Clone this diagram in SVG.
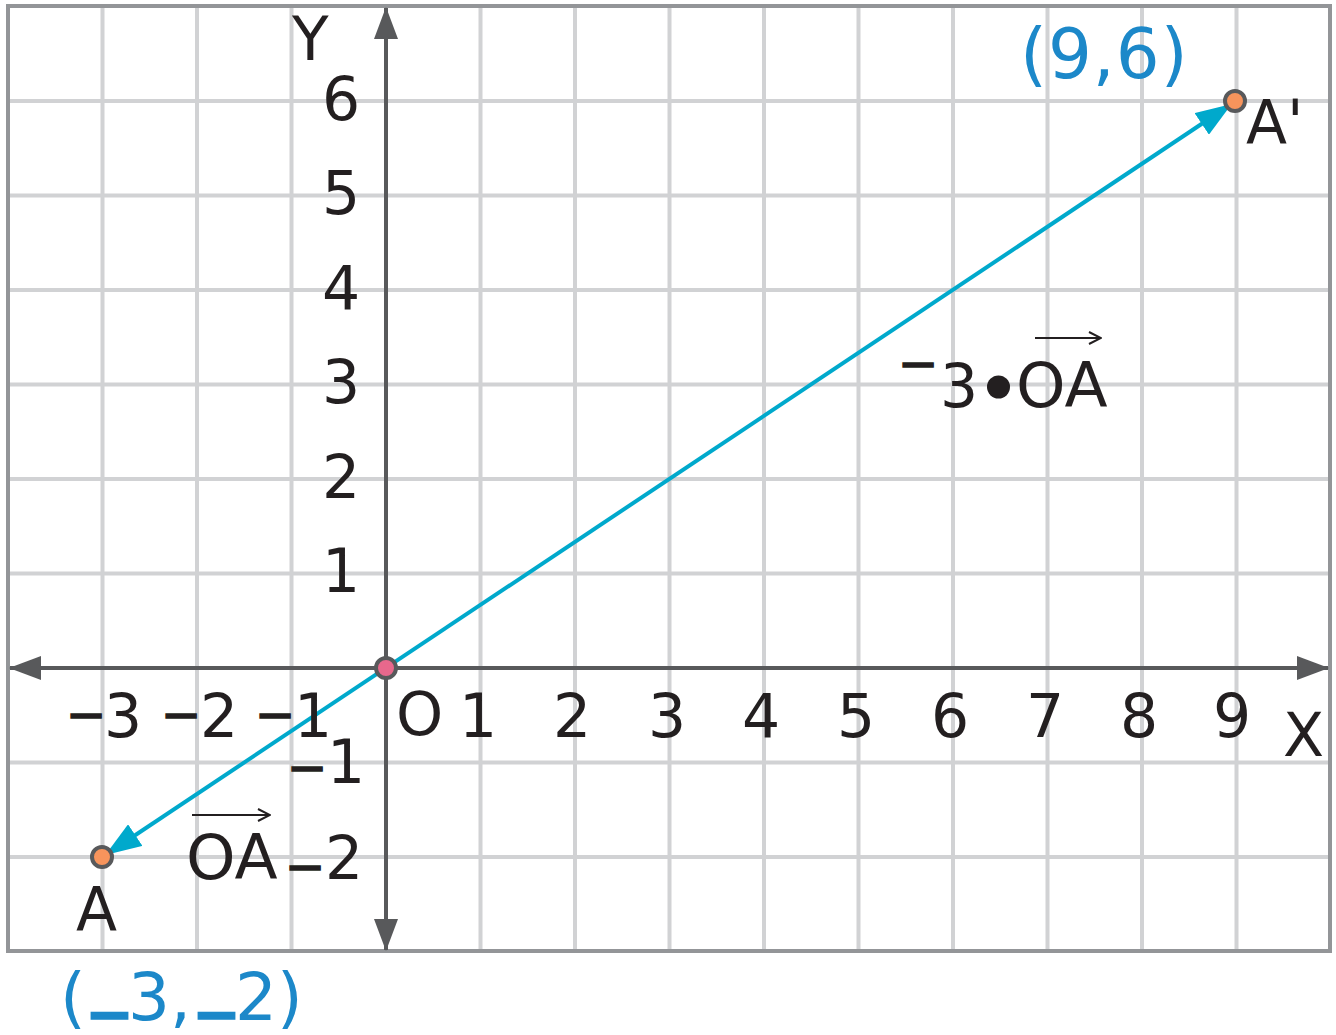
<svg xmlns="http://www.w3.org/2000/svg" width="1336" height="1035" viewBox="0 0 1336 1035">
<style>
.grid{stroke:#d1d2d4;stroke-width:4;fill:none}
.axis{stroke:#58595b;stroke-width:4;fill:none}
.vec{stroke:#00a9cc;stroke-width:4;fill:none}
.lbl{font-family:"DejaVu Sans",sans-serif;font-size:60px;fill:#231f20}
.big{font-size:63px}
.m{font-size:48px;stroke:#231f20;stroke-width:1.5}
.blue{font-family:"DejaVu Sans",sans-serif;font-size:66px;fill:#1c88c9}
.u{stroke:#1c88c9;stroke-width:3.5}
.pt{stroke:#58595b;stroke-width:4}
</style>
<defs>
<marker id="ax" markerUnits="userSpaceOnUse" viewBox="0 0 32 24" markerWidth="32" markerHeight="24" refX="31" refY="12" orient="auto-start-reverse">
<path d="M0,0 L32,12 L0,24 z" fill="#58595b"/>
</marker>
<marker id="bv" markerUnits="userSpaceOnUse" viewBox="0 0 36 26" markerWidth="36" markerHeight="26" refX="34" refY="13" orient="auto-start-reverse">
<path d="M0,0 L36,13 L0,26 z" fill="#00a9cc"/>
</marker>
<marker id="sa" markerUnits="userSpaceOnUse" viewBox="0 0 14 14" markerWidth="14" markerHeight="14" refX="13" refY="7" orient="auto">
<path d="M1,1 L13,7 L1,13" fill="none" stroke="#231f20" stroke-width="2"/>
</marker>
</defs>
<rect x="0" y="0" width="1336" height="1035" fill="#fff"/>
<g id="grid" class="grid">
<path d="M102.5,6V951M197,6V951M291.5,6V951M480.5,6V951M575,6V951M669.5,6V951M764,6V951M858.5,6V951M953,6V951M1047.5,6V951M1142,6V951M1236.5,6V951"/>
<path d="M8,101H1330M8,195.5H1330M8,290H1330M8,384.5H1330M8,479H1330M8,573.5H1330M8,762.5H1330M8,857H1330"/>
</g>
<rect id="frame" x="8" y="6" width="1322" height="945" fill="none" stroke="#939598" stroke-width="4"/>
<g id="connectors">
<line class="axis" x1="10" y1="668" x2="1328" y2="668" marker-start="url(#ax)" marker-end="url(#ax)"/>
<line class="axis" x1="386" y1="950" x2="386" y2="8" marker-start="url(#ax)" marker-end="url(#ax)"/>
<line class="vec" x1="107" y1="854" x2="1230" y2="105" marker-start="url(#bv)" marker-end="url(#bv)"/>
</g>
<g id="ylabels" class="lbl" text-anchor="middle">
<text x="341" y="120">6</text>
<text x="341" y="214">5</text>
<text x="341" y="309">4</text>
<text x="341" y="403">3</text>
<text x="341" y="498">2</text>
<text x="341" y="592">1</text>
</g>
<g id="xlabels" class="lbl">
<text><tspan class="m" x="66" y="731">−</tspan><tspan x="104" y="737">3</tspan></text>
<text><tspan class="m" x="161" y="731">−</tspan><tspan x="200" y="737">2</tspan></text>
<text><tspan class="m" x="255" y="731">−</tspan><tspan x="294" y="737">1</tspan></text>
<text x="396" y="735">O</text>
<text x="459" y="737">1</text>
<text x="553" y="737">2</text>
<text x="648" y="737">3</text>
<text x="742" y="737">4</text>
<text x="837" y="737">5</text>
<text x="931" y="737">6</text>
<text x="1026" y="737">7</text>
<text x="1120" y="737">8</text>
<text x="1213" y="737">9</text>
<text><tspan class="m" x="287" y="784">−</tspan><tspan x="327" y="783">1</tspan></text>
<text><tspan class="m" x="285" y="883">−</tspan><tspan x="325" y="879">2</tspan></text>
</g>
<g id="axisnames" class="lbl">
<text x="292" y="60">Y</text>
<text x="1283" y="756">X</text>
</g>
<g id="pointA">
<circle class="pt" cx="102" cy="857" r="10" fill="#f7945c"/>
<text class="lbl" x="76" y="930">A</text>
<text class="blue"><tspan x="60" y="1020">(</tspan><tspan class="u" x="93" y="1002">_</tspan><tspan x="128" y="1020">3,</tspan><tspan class="u" x="200" y="1002">_</tspan><tspan x="235" y="1020">2)</tspan></text>
</g>
<g id="pointAprime">
<circle class="pt" cx="1235" cy="101" r="10" fill="#f7945c"/>
<text class="lbl" x="1246" y="143">A'</text>
<text class="blue" x="1020" y="78" style="font-size:69px;letter-spacing:1px">(9,6)</text>
</g>
<g id="origin">
<circle class="pt" cx="386" cy="668" r="10" fill="#e8688c"/>
</g>
<g id="labelOA">
<text class="lbl big" x="186" y="879">OA</text>
<line x1="192" y1="815" x2="270" y2="815" stroke="#231f20" stroke-width="2" marker-end="url(#sa)"/>
</g>
<g id="labelNeg3OA">
<text class="lbl"><tspan class="m" x="898" y="380">−</tspan><tspan x="940" y="407">3</tspan></text>
<circle cx="998.5" cy="387" r="11.5" fill="#231f20"/>
<text class="lbl big" x="1016" y="407">OA</text>
<line x1="1035" y1="338" x2="1101" y2="338" stroke="#231f20" stroke-width="2" marker-end="url(#sa)"/>
</g>
</svg>
